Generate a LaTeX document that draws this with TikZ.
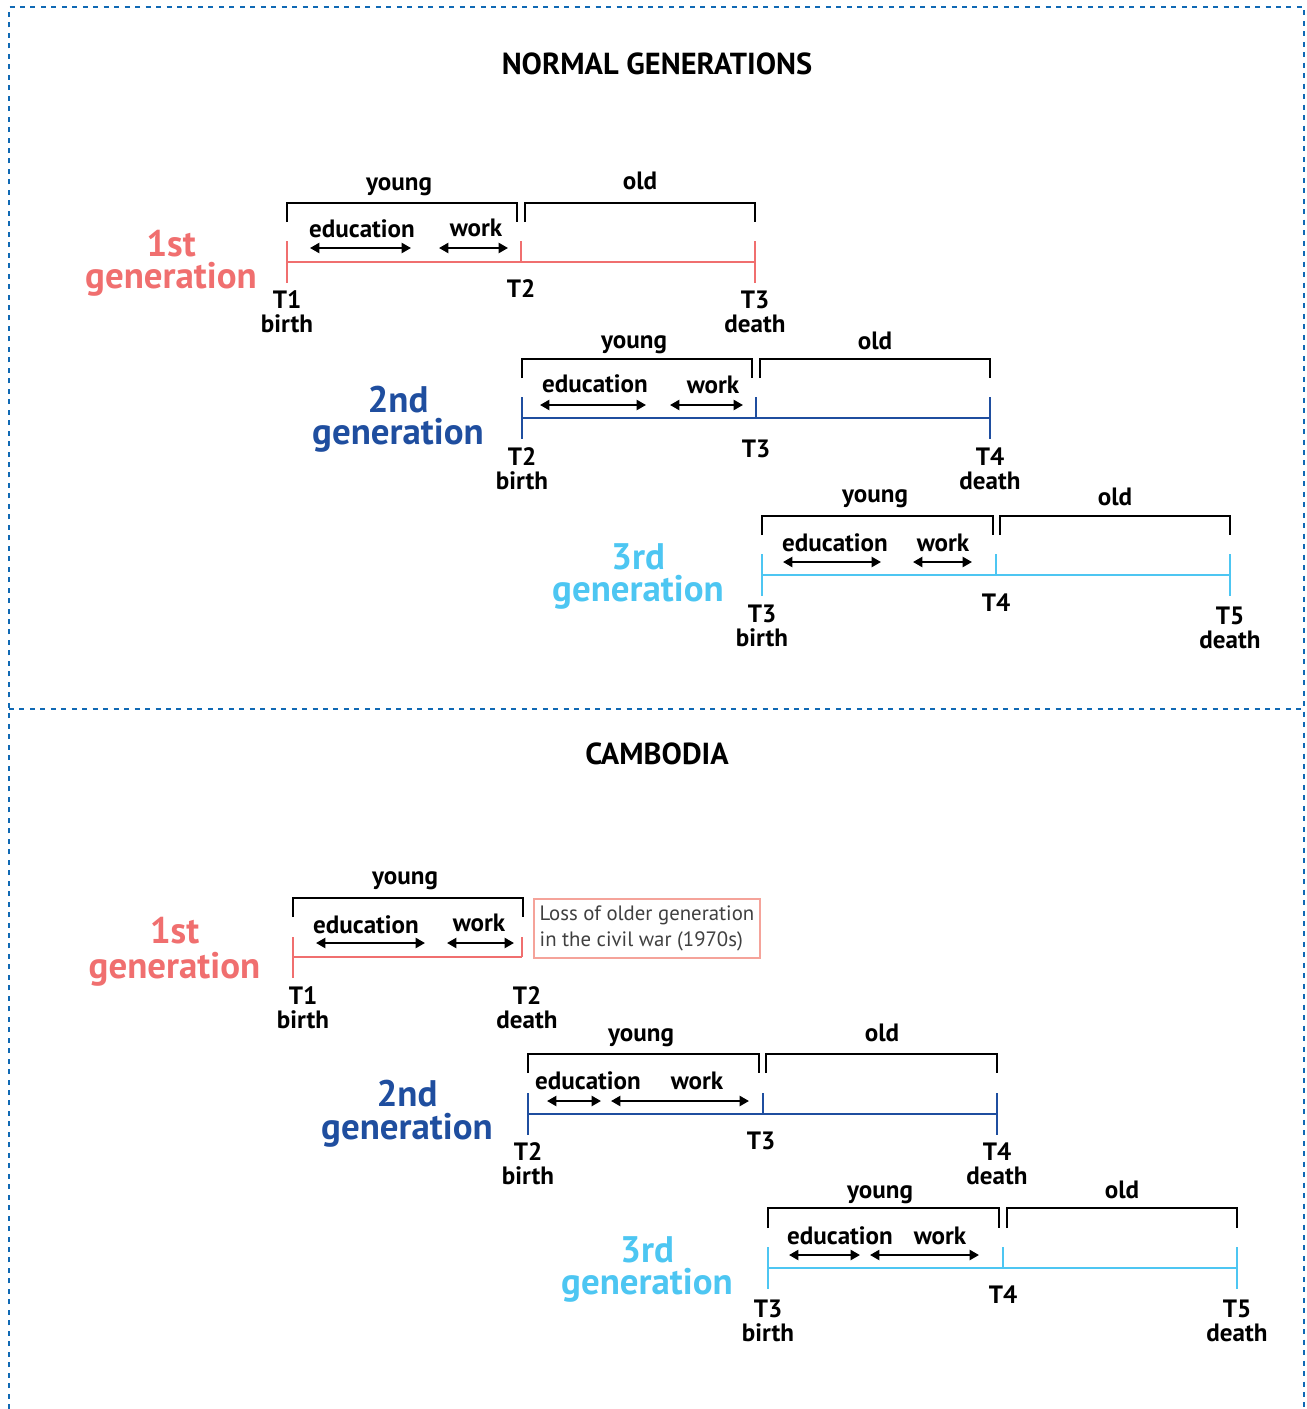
\documentclass[tikz,border=0pt]{standalone}
\usepackage{fontspec}
\setmainfont{PT Sans}
\usetikzlibrary{arrows.meta}
\definecolor{gred}{HTML}{F06F6F}
\definecolor{gblue}{HTML}{1F4E9F}
\definecolor{glight}{HTML}{4DC6F2}
\definecolor{boxred}{HTML}{F5A39A}
\definecolor{frameblue}{HTML}{1069B4}
\definecolor{boxtext}{HTML}{404040}
\newcommand\lblfont{\bfseries\fontsize{18.8}{18}\selectfont}
\newcommand\genfont{\bfseries\fontsize{27.7}{24}\selectfont}
\tikzset{
 tline/.style={line width=1.9pt},
 brk/.style={line width=1.9pt, draw=black},
 arr/.style={{Triangle[length=7pt,width=7.5pt]}-{Triangle[length=7pt,width=7.5pt]}, line width=1.6pt},
 lbl/.style={font=\lblfont, inner sep=0pt, align=center},
 genlbl/.style={font=\genfont, inner sep=0pt, align=center},
 frame/.style={draw=frameblue, line width=1.9pt, dash pattern=on 3.75pt off 4.1pt},
 ttl/.style={font=\bfseries\fontsize{22.8}{24}\selectfont, inner sep=0pt},
 lossbox/.style={draw=boxred, line width=1.5pt, anchor=north west, minimum width=169.5pt, minimum height=44.25pt, inner sep=2pt, align=left, text=boxtext, font=\fontsize{15.6}{20}\selectfont},
}
\begin{document}
\begin{tikzpicture}[x=0.75pt,y=-0.75pt]
\useasboundingbox (0,0) rectangle (1306,1409);
% frame
\coordinate (fTL) at (9,7); \coordinate (fTR) at (1304,7);
\coordinate (fBL) at (9,1409); \coordinate (fBR) at (1304,1409);
\coordinate (dL) at (9,709); \coordinate (dR) at (1304,709);
\draw[frame] (fBL) -- (fTL) -- (fTR) -- (fBR);
\draw[frame] (dL) -- (dR);
\node[ttl] (title1) at (657,64) {NORMAL GENERATIONS};
\node[ttl] (title2) at (657,754) {CAMBODIA};

% ---------- normal, 1st generation
\begin{scope}[shift={(287,262)}, name prefix=n1-]
 \coordinate (A) at (0,0); \coordinate (B) at (234,0); \coordinate (C) at (468,0);
 \coordinate (At) at (0,-21); \coordinate (Ab) at (0,21);
 \coordinate (Bt) at (234,-21);
 \coordinate (Ct) at (468,-21); \coordinate (Cb) at (468,21);
 \draw[tline, gred] (A) -- (C);
 \draw[tline, gred] (At) -- (Ab);
 \draw[tline, gred] (Bt) -- (B);
 \draw[tline, gred] (Ct) -- (Cb);
 \draw[brk] (0,-40) -- (0,-59) -- (230,-59) -- (230,-40);
 \draw[brk] (238,-40) -- (238,-59) -- (468,-59) -- (468,-40);
 \node[lbl] (young) at (112,-75) {young};
 \node[lbl] (old) at (353,-81) {old};
 \node[lbl] (edu) at (75,-33) {education};
 \node[lbl] (work) at (189,-34) {work};
 \coordinate (e1) at (23,-14); \coordinate (e2) at (124,-14);
 \coordinate (w1) at (152,-14); \coordinate (w2) at (221,-14);
 \draw[arr] (e1) -- (e2);
 \draw[arr] (w1) -- (w2);
 \node[lbl] (ta) at (0,50) {T1\\birth};
 \node[lbl] (tb) at (234,27) {T2};
 \node[lbl] (tc) at (468,50) {T3\\death};
 \node[genlbl, text=gred] (gen) at (-116,1) {1st\\generation};
\end{scope}

% ---------- normal, 2nd generation
\begin{scope}[shift={(522,418)}, name prefix=n2-]
 \coordinate (A) at (0,0); \coordinate (B) at (234,0); \coordinate (C) at (468,0);
 \coordinate (At) at (0,-21); \coordinate (Ab) at (0,21);
 \coordinate (Bt) at (234,-21);
 \coordinate (Ct) at (468,-21); \coordinate (Cb) at (468,21);
 \draw[tline, gblue] (A) -- (C);
 \draw[tline, gblue] (At) -- (Ab);
 \draw[tline, gblue] (Bt) -- (B);
 \draw[tline, gblue] (Ct) -- (Cb);
 \draw[brk] (0,-40) -- (0,-59) -- (230,-59) -- (230,-40);
 \draw[brk] (238,-40) -- (238,-59) -- (468,-59) -- (468,-40);
 \node[lbl] (young) at (112,-73) {young};
 \node[lbl] (old) at (353,-77) {old};
 \node[lbl] (edu) at (73,-34) {education};
 \node[lbl] (work) at (191,-33) {work};
 \coordinate (e1) at (18,-13); \coordinate (e2) at (124,-13);
 \coordinate (w1) at (148,-13); \coordinate (w2) at (221,-13);
 \draw[arr] (e1) -- (e2);
 \draw[arr] (w1) -- (w2);
 \node[lbl] (ta) at (0,51) {T2\\birth};
 \node[lbl] (tb) at (234,31) {T3};
 \node[lbl] (tc) at (468,51) {T4\\death};
 \node[genlbl, text=gblue] (gen) at (-124,1) {2nd\\generation};
\end{scope}

% ---------- normal, 3rd generation
\begin{scope}[shift={(762,575)}, name prefix=n3-]
 \coordinate (A) at (0,0); \coordinate (B) at (234,0); \coordinate (C) at (468,0);
 \coordinate (At) at (0,-21); \coordinate (Ab) at (0,21);
 \coordinate (Bt) at (234,-21);
 \coordinate (Ct) at (468,-21); \coordinate (Cb) at (468,21);
 \draw[tline, glight] (A) -- (C);
 \draw[tline, glight] (At) -- (Ab);
 \draw[tline, glight] (Bt) -- (B);
 \draw[tline, glight] (Ct) -- (Cb);
 \draw[brk] (0,-40) -- (0,-59) -- (231,-59) -- (231,-40);
 \draw[brk] (238,-40) -- (238,-59) -- (468,-59) -- (468,-40);
 \node[lbl] (young) at (113,-76) {young};
 \node[lbl] (old) at (353,-78) {old};
 \node[lbl] (edu) at (73,-32) {education};
 \node[lbl] (work) at (181,-32) {work};
 \coordinate (e1) at (21,-13); \coordinate (e2) at (119,-13);
 \coordinate (w1) at (151,-13); \coordinate (w2) at (210,-13);
 \draw[arr] (e1) -- (e2);
 \draw[arr] (w1) -- (w2);
 \node[lbl] (ta) at (0,51) {T3\\birth};
 \node[lbl] (tb) at (234,28) {T4};
 \node[lbl] (tc) at (468,53) {T5\\death};
 \node[genlbl, text=glight] (gen) at (-124,1.5) {3rd\\generation};
\end{scope}

% ---------- Cambodia, 1st generation
\begin{scope}[shift={(293,957)}, name prefix=c1-]
 \coordinate (A) at (0,0); \coordinate (B) at (229,0);
 \coordinate (At) at (0,-20); \coordinate (Ab) at (0,21);
 \coordinate (Bt) at (229,-20);
 \draw[tline, gred] (A) -- (B);
 \draw[tline, gred] (At) -- (Ab);
 \draw[tline, gred] (Bt) -- (B);
 \draw[brk] (0,-40) -- (0,-59) -- (230,-59) -- (230,-40);
 \node[lbl] (young) at (112,-76) {young};
 \node[lbl] (edu) at (73,-32) {education};
 \node[lbl] (work) at (186,-34) {work};
 \coordinate (e1) at (23,-14); \coordinate (e2) at (132,-14);
 \coordinate (w1) at (154,-14); \coordinate (w2) at (221,-14);
 \draw[arr] (e1) -- (e2);
 \draw[arr] (w1) -- (w2);
 \node[lbl] (ta) at (10,51) {T1\\birth};
 \node[lbl] (tb) at (234,51) {T2\\death};
 \node[lossbox] (loss) at (240,-59) {Loss of older generation\\in the civil war (1970s)};
 \node[genlbl, text=gred, font=\bfseries\fontsize{27.7}{26.25}\selectfont] (gen) at (-118.5,-5.5) {1st\\generation};
\end{scope}

% ---------- Cambodia, 2nd generation
\begin{scope}[shift={(528,1114)}, name prefix=c2-]
 \coordinate (A) at (0,0); \coordinate (B) at (235,0); \coordinate (C) at (469,0);
 \coordinate (At) at (0,-21); \coordinate (Ab) at (0,21);
 \coordinate (Bt) at (235,-21);
 \coordinate (Ct) at (469,-21); \coordinate (Cb) at (469,21);
 \draw[tline, gblue] (A) -- (C);
 \draw[tline, gblue] (At) -- (Ab);
 \draw[tline, gblue] (Bt) -- (B);
 \draw[tline, gblue] (Ct) -- (Cb);
 \draw[brk] (0,-41) -- (0,-60) -- (231,-60) -- (231,-41);
 \draw[brk] (238,-41) -- (238,-60) -- (469,-60) -- (469,-41);
 \node[lbl] (young) at (113,-76) {young};
 \node[lbl] (old) at (354,-81) {old};
 \node[lbl] (edu) at (60,-33) {education};
 \node[lbl] (work) at (169,-33) {work};
 \coordinate (e1) at (19,-13); \coordinate (e2) at (73,-13);
 \coordinate (w1) at (83,-13); \coordinate (w2) at (221,-13);
 \draw[arr] (e1) -- (e2);
 \draw[arr] (w1) -- (w2);
 \node[lbl] (ta) at (0,50) {T2\\birth};
 \node[lbl] (tb) at (233,27) {T3};
 \node[lbl] (tc) at (469,50) {T4\\death};
 \node[genlbl, text=gblue, font=\bfseries\fontsize{27.7}{24.75}\selectfont] (gen) at (-121,-0.5) {2nd\\generation};
\end{scope}

% ---------- Cambodia, 3rd generation
\begin{scope}[shift={(768,1268)}, name prefix=c3-]
 \coordinate (A) at (0,0); \coordinate (B) at (235,0); \coordinate (C) at (469,0);
 \coordinate (At) at (0,-21); \coordinate (Ab) at (0,21);
 \coordinate (Bt) at (235,-21);
 \coordinate (Ct) at (469,-21); \coordinate (Cb) at (469,21);
 \draw[tline, glight] (A) -- (C);
 \draw[tline, glight] (At) -- (Ab);
 \draw[tline, glight] (Bt) -- (B);
 \draw[tline, glight] (Ct) -- (Cb);
 \draw[brk] (0,-40) -- (0,-60) -- (231,-60) -- (231,-40);
 \draw[brk] (239,-40) -- (239,-60) -- (469,-60) -- (469,-40);
 \node[lbl] (young) at (112,-73) {young};
 \node[lbl] (old) at (354,-78) {old};
 \node[lbl] (edu) at (72,-32) {education};
 \node[lbl] (work) at (172,-32) {work};
 \coordinate (e1) at (21,-13); \coordinate (e2) at (92,-13);
 \coordinate (w1) at (102,-13); \coordinate (w2) at (211,-13);
 \draw[arr] (e1) -- (e2);
 \draw[arr] (w1) -- (w2);
 \node[lbl] (ta) at (0,53) {T3\\birth};
 \node[lbl] (tb) at (235,27) {T4};
 \node[lbl] (tc) at (469,53) {T5\\death};
 \node[genlbl, text=glight] (gen) at (-121,1) {3rd\\generation};
\end{scope}
\end{tikzpicture}
\end{document}
